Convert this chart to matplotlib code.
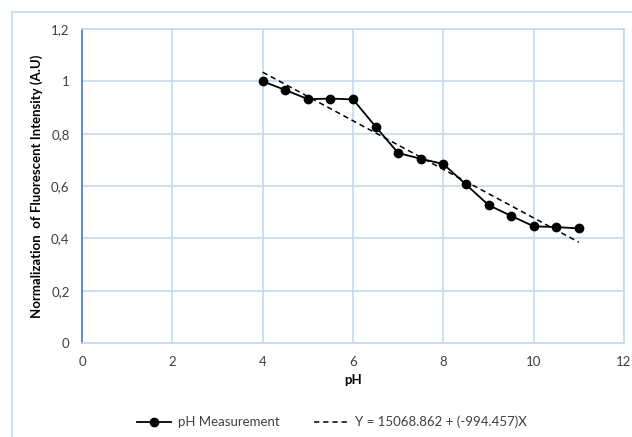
import numpy as np
import matplotlib.pyplot as plt
from matplotlib.patches import Rectangle

plt.rcParams['font.family'] = ['Lato', 'DejaVu Sans']

ph = [4, 4.5, 5, 5.5, 6, 6.5, 7, 7.5, 8, 8.5, 9, 9.5, 10, 10.5, 11]
intensity = [1.0, 0.967, 0.932, 0.934, 0.931, 0.827, 0.726, 0.704, 0.684,
             0.606, 0.527, 0.486, 0.446, 0.443, 0.438]
x_ticks = [0, 2, 4, 6, 8, 10, 12]
y_ticks = [0, 0.2, 0.4, 0.6, 0.8, 1.0, 1.2]
y_tick_labels = ["0", "0,2", "0,4", "0,6", "0,8", "1", "1,2"]

grid_col = "#c6d9f0"
text_col = "#404040"

fig = plt.figure(figsize=(6.32, 4.37), dpi=100)
fig.patches.append(Rectangle((12 / 632, -0.1), 1.2, 1 - 12 / 437 + 0.1,
                             transform=fig.transFigure, fill=False,
                             edgecolor=grid_col, linewidth=1.2))

ax = fig.add_axes([82 / 632, 1 - 343 / 437, (624 - 82) / 632, (343 - 29) / 437])

# linear trend line from the measurements
slope, intercept = np.polyfit(ph, intensity, 1)
fit_x = np.array([ph[0], ph[-1]])
ax.plot(fit_x, intercept + slope * fit_x, color="black", linestyle=(0, (3.5, 2.5)),
        linewidth=1.1, label="Y = 15068.862 + (-994.457)X", zorder=3)
ax.plot(ph, intensity, color="black", marker="o", markersize=6, linewidth=1.3,
        label="pH Measurement", zorder=4)

ax.set_xlim(0, 12)
ax.set_ylim(0, 1.2)
ax.set_xticks(x_ticks)
ax.set_yticks(y_ticks)
ax.set_yticklabels(y_tick_labels)
ax.grid(True, color=grid_col, linewidth=1.2)
ax.set_axisbelow(True)
ax.tick_params(length=0, labelsize=9.5, colors=text_col, pad=9)
for side in ["top", "right", "bottom"]:
    ax.spines[side].set_color(grid_col)
    ax.spines[side].set_linewidth(1.2)
ax.spines["left"].set_color("#4a78c0")
ax.spines["left"].set_linewidth(1.2)

ax.set_xlabel("pH", fontsize=9.5, fontweight="bold", color="black", labelpad=5)
ax.set_ylabel("Normalization  of Fluorescent Intensity (A.U)", fontsize=9.5,
              fontweight="bold", color="black", labelpad=6)

handles, labels = ax.get_legend_handles_labels()
fig.legend(handles[::-1], labels[::-1], loc="center", bbox_to_anchor=(0.525, 1 - 422 / 437),
           ncol=2, frameon=False, fontsize=9.5, handlelength=2.6, handletextpad=0.5,
           columnspacing=2.6, labelcolor=text_col)

fig.savefig("out.png", dpi=100)
